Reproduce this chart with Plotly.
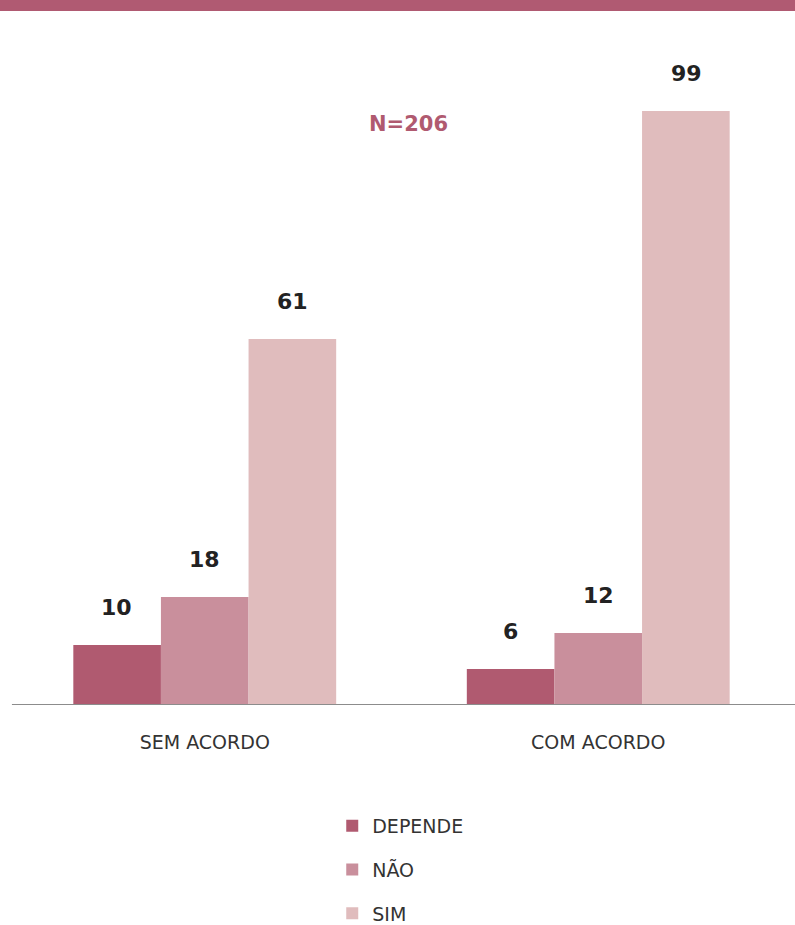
import plotly.graph_objects as go

categories = ["SEM ACORDO", "COM ACORDO"]
series_names = ["DEPENDE", "NÃO", "SIM"]
depende = [10, 6]
nao = [18, 12]
sim = [61, 99]
series_values = [depende, nao, sim]
colors = ["#b05a70", "#c98f9c", "#e0bcbd"]
n_label = "N=206"

fig = go.Figure()
for i, (name, vals) in enumerate(zip(series_names, series_values)):
    fig.add_trace(go.Bar(
        x=categories, y=vals, name=name, marker=dict(color=colors[i], line=dict(width=0)),
        legendgroup=name, showlegend=True, hoverinfo="skip",
    ))

fig.update_layout(
    width=795, height=925,
    margin=dict(l=8, r=0, t=45, b=220, autoexpand=False),
    paper_bgcolor="white", plot_bgcolor="white",
    barmode="group", bargap=0.332, bargroupgap=0,
    showlegend=True,
    legend=dict(
        x=0.412, y=-0.1545, xanchor="left", yanchor="top",
        orientation="v", tracegroupgap=16,
        font=dict(family="DejaVu Sans", size=19, color="#333333"),
        bgcolor="rgba(0,0,0,0)",
    ),
    xaxis=dict(
        showgrid=False, zeroline=False, showline=False, ticks="",
        tickfont=dict(family="DejaVu Sans", size=19, color="#333333"),
        ticklabelstandoff=24, automargin=False,
    ),
    yaxis=dict(range=[0, 110], visible=False, showgrid=False, zeroline=False),
)

# value labels above bars
for i, vals in enumerate(series_values):
    for j, v in enumerate(vals):
        fig.add_annotation(
            x=categories[j], y=v, xref="x", yref="y",
            text=f"<b>{v}</b>", showarrow=False,
            xshift=(i - 1) * 88, yshift=23, yanchor="bottom",
            font=dict(family="DejaVu Sans", size=22, color="#222222"),
        )

fig.add_annotation(
    x=0.5095, y=0.88, xref="paper", yref="paper",
    text=f"<b>{n_label}</b>", showarrow=False, xanchor="center", yanchor="middle",
    font=dict(family="DejaVu Sans", size=21, color="#b05a70"),
)

# baseline
fig.add_shape(type="line", xref="paper", yref="y", x0=0.005, x1=1.0, y0=0, y1=0,
              line=dict(color="#8c8c8c", width=2))
# top band
fig.add_shape(type="rect", xref="paper", yref="paper", x0=-0.02, x1=1.02,
              y0=(705 - 11) / 660, y1=(705 + 5) / 660,
              fillcolor="#b05a72", line=dict(width=0))

fig.write_html(
    "out.html",
    config={"displayModeBar": False, "staticPlot": True},
    post_script=(
        "var h=document.documentElement,b=document.body;"
        "h.style.margin='0';b.style.margin='0';h.style.padding='0';b.style.padding='0';"
        "h.style.height='925px';b.style.height='925px';"
        "h.style.overflow='hidden';b.style.overflow='hidden';"
    ),
)
